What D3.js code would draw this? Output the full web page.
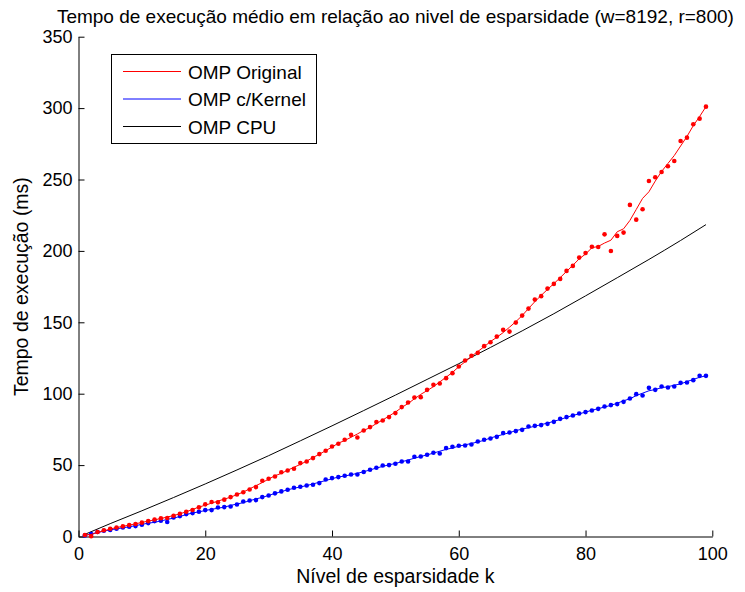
<!DOCTYPE html>
<html lang="pt">
<head>
<meta charset="UTF-8">
<title>Tempo de execução</title>
<script src="https://d3js.org/d3.v7.min.js"></script>
<style>
  body { margin: 0; background: #fff; }
  svg { display: block; font-family: "Liberation Sans", Arial, sans-serif; }
  .axis text { font-size: 18px; fill: #000; }
  .axis path, .axis line { stroke: #000; }
</style>
</head>
<body>
<svg id="chart" width="745" height="592"></svg>
<script>
// k = 1..99
const kValues = d3.range(1, 100);

const ompOriginal = [
  1.0, 0.2, 3.2, 4.4, 5.4, 6.3, 7.1, 8.0, 8.8, 9.7,
  10.8, 11.9, 12.8, 13.0, 14.5, 15.9, 17.3, 18.6, 20.4, 22.5,
  24.2, 23.9, 25.8, 27.6, 29.4, 31.0, 32.9, 34.6, 39.0, 40.4,
  42.0, 45.0, 46.2, 47.4, 51.4, 52.5, 54.9, 57.7, 60.0, 63.0,
  64.9, 67.7, 71.2, 69.3, 74.2, 76.6, 80.1, 81.2, 83.6, 86.4,
  90.6, 93.8, 97.3, 97.6, 102.7, 106.2, 107.1, 110.9, 114.4, 119.0,
  123.3, 126.6, 128.6, 133.3, 136.0, 140.0, 144.7, 143.5, 149.8, 154.7,
  159.6, 165.9, 168.3, 173.6, 176.9, 180.4, 186.0, 189.5, 195.3, 198.5,
  202.9, 202.7, 211.6, 199.9, 210.5, 212.8, 232.2, 221.9, 229.2, 249.0,
  251.6, 255.3, 259.3, 263.0, 277.0, 279.3, 288.7, 292.6, 301.0
];

const ompKernel = [
  0.7, 1.7, 3.1, 4.0, 4.5, 5.4, 6.3, 6.8, 7.3, 8.2,
  9.4, 10.8, 11.0, 10.2, 13.3, 14.3, 15.7, 16.4, 17.3, 18.5,
  18.5, 20.3, 20.6, 21.0, 22.4, 24.5, 25.2, 25.5, 27.6, 28.7,
  30.2, 31.6, 32.7, 34.1, 34.8, 35.7, 36.2, 37.4, 39.9, 40.9,
  41.6, 42.5, 43.4, 43.4, 45.2, 46.7, 48.1, 49.7, 50.0, 50.9,
  52.5, 52.5, 55.8, 56.0, 57.3, 58.6, 58.1, 61.9, 62.8, 63.5,
  63.7, 64.4, 66.5, 67.7, 68.6, 69.8, 72.4, 72.8, 73.8, 74.7,
  77.0, 77.5, 78.0, 78.9, 80.3, 82.4, 83.6, 84.7, 86.1, 87.1,
  88.2, 89.4, 91.0, 92.0, 92.7, 94.3, 96.6, 99.7, 98.7, 104.1,
  102.7, 105.0, 104.3, 105.0, 107.6, 107.8, 109.5, 112.5, 112.5
];

const cpuK = [1, 5, 10, 15, 20, 25, 30, 35, 40, 45, 50, 55, 60, 65, 70, 75, 80, 85, 90, 95, 99];
const ompCpu = [1.5, 9.0, 18.0, 27.3, 36.8, 46.6, 56.6, 67.0, 77.5, 88.2, 99.0, 110.0, 121.0, 132.4, 144.0, 156.0, 168.5, 181.2, 194.0, 207.3, 218.4];

const xTicks = [0, 20, 40, 60, 80, 100];
const yTicks = [0, 50, 100, 150, 200, 250, 300, 350];

const seriesNames = ["OMP Original", "OMP c/Kernel", "OMP CPU"];
const seriesColors = ["#ff0000", "#0000ff", "#000000"];

const titleText = "Tempo de execução médio em relação ao nivel de esparsidade (w=8192, r=800)";
const xLabel = "Nível de esparsidade k";
const yLabel = "Tempo de execução (ms)";

// smoothing like matlab smooth(): moving average, span shrinks near the ends
function smooth(vals, span) {
  const n = vals.length, h = (span - 1) / 2;
  return vals.map((v, i) => {
    const w = Math.min(h, i, n - 1 - i);
    return d3.mean(vals.slice(i - w, i + w + 1));
  });
}

const svg = d3.select("#chart");
const plotLeft = 78.5, plotRight = 712.3, plotTop = 36.7, plotBottom = 536.5;

const x = d3.scaleLinear().domain([0, 100]).range([plotLeft, plotRight]);
const y = d3.scaleLinear().domain([0, 350]).range([plotBottom, plotTop]);

// axes
svg.append("g")
    .attr("class", "axis")
    .attr("transform", `translate(0,${plotBottom})`)
    .call(d3.axisBottom(x).tickValues(xTicks).tickSize(-6).tickSizeOuter(0).tickPadding(11));

svg.append("g")
    .attr("class", "axis")
    .attr("transform", `translate(${plotLeft},0)`)
    .call(d3.axisLeft(y).tickValues(yTicks).tickSize(-6).tickSizeOuter(0).tickPadding(6));

// CPU curve
svg.append("path")
    .datum(cpuK.map((k, i) => [k, ompCpu[i]]))
    .attr("fill", "none")
    .attr("stroke", seriesColors[2])
    .attr("stroke-width", 1)
    .attr("d", d3.line().x(d => x(d[0])).y(d => y(d[1])).curve(d3.curveMonotoneX));

// dotted series with smoothed line
[ompKernel, ompOriginal].forEach((vals, j) => {
    const color = j === 0 ? seriesColors[1] : seriesColors[0];
    const sm = smooth(vals, 5);
    svg.append("path")
        .datum(kValues.map((k, i) => [k, sm[i]]))
        .attr("fill", "none")
        .attr("stroke", color)
        .attr("stroke-width", 1)
        .attr("d", d3.line().x(d => x(d[0])).y(d => y(d[1])));
    svg.append("g").selectAll("circle")
        .data(vals)
        .join("circle")
        .attr("cx", (d, i) => x(kValues[i]))
        .attr("cy", d => y(d))
        .attr("r", 2.3)
        .attr("fill", color);
});

// title and labels
svg.append("text")
    .attr("x", (plotLeft + plotRight) / 2)
    .attr("y", 23)
    .attr("text-anchor", "middle")
    .style("font-size", "19px")
    .text(titleText);

svg.append("text")
    .attr("x", (plotLeft + plotRight) / 2)
    .attr("y", 583)
    .attr("text-anchor", "middle")
    .style("font-size", "19.5px")
    .text(xLabel);

svg.append("text")
    .attr("transform", `translate(28,${(plotTop + plotBottom) / 2}) rotate(-90)`)
    .attr("text-anchor", "middle")
    .style("font-size", "19.5px")
    .text(yLabel);

// legend
const legend = svg.append("g");
legend.append("rect")
    .attr("x", 111.5).attr("y", 54.5)
    .attr("width", 205).attr("height", 89)
    .attr("fill", "#fff").attr("stroke", "#000");
seriesNames.forEach((name, i) => {
    const ly = 71.5 + i * 27.5;
    legend.append("line")
        .attr("x1", 123).attr("x2", 181)
        .attr("y1", ly).attr("y2", ly)
        .attr("stroke", seriesColors[i]).attr("stroke-width", 1);
    legend.append("text")
        .attr("x", 188).attr("y", ly + 7)
        .style("font-size", "19px")
        .text(name);
});
</script>
</body>
</html>
